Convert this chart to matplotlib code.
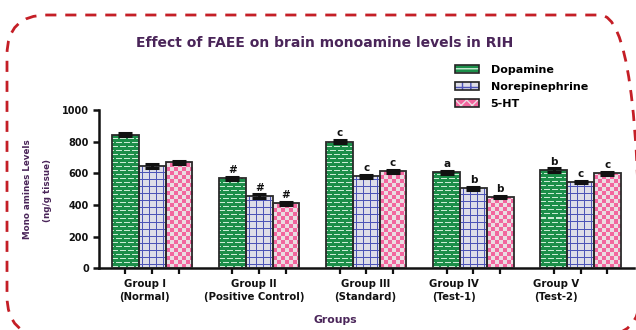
import numpy as np
import matplotlib
matplotlib.use("Agg")
import matplotlib.pyplot as plt
from matplotlib.patches import Patch, FancyBboxPatch

plt.rcParams['font.family'] = ['DejaVu Sans']
plt.rcParams['font.weight'] = 'bold'

groups = ["Group I\n(Normal)", "Group II\n(Positive Control)", "Group III\n(Standard)",
          "Group IV\n(Test-1)", "Group V\n(Test-2)"]
series = ["Dopamine", "Norepinephrine", "5-HT"]
dopamine = [843, 568, 800, 605, 620]
norepinephrine = [646, 455, 582, 505, 545]
serotonin = [670, 410, 613, 450, 600]
dopamine_err = [10, 10, 11, 11, 10]
norepinephrine_err = [10, 11, 10, 8, 9]
serotonin_err = [10, 10, 9, 8, 8]
dopamine_sig = ["", "#", "c", "a", "b"]
norepinephrine_sig = ["", "#", "c", "b", "c"]
serotonin_sig = ["", "#", "c", "b", "c"]

purple = "#4a2559"
green = (0.11, 0.56, 0.29)


def pattern_image(kind, ny, nx):
    r, c = np.mgrid[0:ny, 0:nx]
    img = np.zeros((ny, nx, 3))
    if kind == 0:
        # green bricks with light dashes
        img[:] = green
        shift = 4 * ((r // 4) % 2)
        dash = (r % 4 == 1) & (((c + shift) % 8) < 6)
        img[dash] = (0.80, 0.93, 0.84)
    elif kind == 1:
        # blue grid on pale grey
        img[:] = (0.87, 0.87, 0.91)
        grid = (r % 7 == 3) | (c % 7 == 3)
        img[grid] = (0.30, 0.33, 0.72)
    else:
        # pink checkerboard
        img[:] = (0.92, 0.87, 0.89)
        chk = ((r // 4) + (c // 4)) % 2 == 0
        img[chk] = (0.95, 0.40, 0.62)
    return img


def fill_bar(ax, bar, kind):
    x0, y0 = bar.get_x(), bar.get_y()
    w, h = bar.get_width(), bar.get_height()
    (px0, py0), (px1, py1) = ax.transData.transform([(x0, y0), (x0 + w, y0 + h)])
    nx = max(int(round(px1 - px0)), 1)
    ny = max(int(round(py1 - py0)), 1)
    im = ax.imshow(pattern_image(kind, ny, nx), extent=(x0, x0 + w, y0, y0 + h),
                   origin='lower', aspect='auto', interpolation='nearest', zorder=2)
    im.set_clip_path(bar)


fig = plt.figure(figsize=(6.36, 3.3), dpi=100)
ax = fig.add_axes([0.155, 0.187, 0.842, 0.480])
ax.set_xlim(-0.5, 4.5)
ax.set_ylim(0, 1000)

x = np.arange(len(groups))
width = 0.25
values = [dopamine, norepinephrine, serotonin]
errors = [dopamine_err, norepinephrine_err, serotonin_err]
marks = [dopamine_sig, norepinephrine_sig, serotonin_sig]

for k in range(3):
    pos = x + (k - 1) * width
    bars = ax.bar(pos, values[k], width, facecolor='none', edgecolor='#2a2a2a',
                  linewidth=1.3, zorder=3)
    for b in bars:
        fill_bar(ax, b, k)
    ax.errorbar(pos, values[k], yerr=errors[k], fmt='none', ecolor='#111111',
                elinewidth=2, capsize=5, capthick=2.2, zorder=4)
    for p, v, e, m in zip(pos, values[k], errors[k], marks[k]):
        if m:
            ax.text(p, v + e + 12, m, ha='center', va='bottom', fontsize=7.5,
                    fontweight='bold', color='#111111')

ax.set_xlim(-0.5, 4.5)
ax.set_ylim(0, 1000)

ax.spines['top'].set_visible(False)
ax.spines['right'].set_visible(False)
ax.spines['left'].set_linewidth(1.8)
ax.spines['bottom'].set_linewidth(1.8)
ax.spines['left'].set_color('#111111')
ax.spines['bottom'].set_color('#111111')

ax.set_yticks(range(0, 1001, 200))
ax.tick_params(axis='y', length=4, width=1.8, pad=3, labelsize=7, colors='#111111')
ax.set_xticks(np.concatenate([x - width, x, x + width]))
ax.set_xticklabels([])
ax.tick_params(axis='x', length=4, width=1.6, colors='#111111')

label_shift = [-0.07, -0.05, -0.01, -0.18, -0.23]
for xi, name, s in zip(x, groups, label_shift):
    ax.text(xi + s, -0.065, name, transform=ax.get_xaxis_transform(), ha='center',
            va='top', fontsize=7.3, fontweight='bold', linespacing=1.45, color='#111111')

fig.text(325 / 636, 1 - 43 / 330, "Effect of FAEE on brain monoamine levels in RIH",
         ha='center', va='center', fontsize=10, fontweight='bold', color=purple)
fig.text(28 / 636, 1 - 189 / 330, "Mono amines Levels", rotation=90, ha='center',
         va='center', fontsize=6.3, fontweight='bold', color=purple)
fig.text(47 / 636, 1 - 190 / 330, "(ng/g tissue)", rotation=90, ha='center',
         va='center', fontsize=6.3, fontweight='bold', color=purple)
fig.text(335 / 636, 1 - 320 / 330, "Groups", ha='center', va='center', fontsize=7.8,
         fontweight='bold', color=purple)

# legend swatches: hatched fill plus a separate dark outline
handles = []
swatches = [(green, '----', (0.80, 0.93, 0.84)),
            ((0.87, 0.87, 0.91), '++', (0.30, 0.33, 0.72)),
            ((0.95, 0.40, 0.62), 'xxx', (0.92, 0.87, 0.89))]
for fc, hatch, hc in swatches:
    with plt.rc_context({'hatch.color': hc}):
        fill = Patch(facecolor=fc, hatch=hatch)
    edge = Patch(facecolor='none', edgecolor='#222222', linewidth=1.2)
    handles.append((fill, edge))
fig.legend(handles, series, loc='upper left', bbox_to_anchor=(455 / 636, 1 - 65 / 330),
           frameon=False, fontsize=8, handlelength=2.2, handleheight=0.75,
           handletextpad=1.0, labelspacing=0.62, borderpad=0, borderaxespad=0)

# dashed rounded frame around the whole figure
border = FancyBboxPatch((0.07, -0.06), 6.33, 3.21, boxstyle="round,pad=0,rounding_size=0.4",
                        transform=fig.dpi_scale_trans, facecolor='none', edgecolor='#c41e26',
                        linewidth=2.0, clip_on=False)
border.set_linestyle((0, (4.0, 3.2)))
border.set_capstyle('butt')
fig.add_artist(border)

fig.savefig("out.png", dpi=100)
